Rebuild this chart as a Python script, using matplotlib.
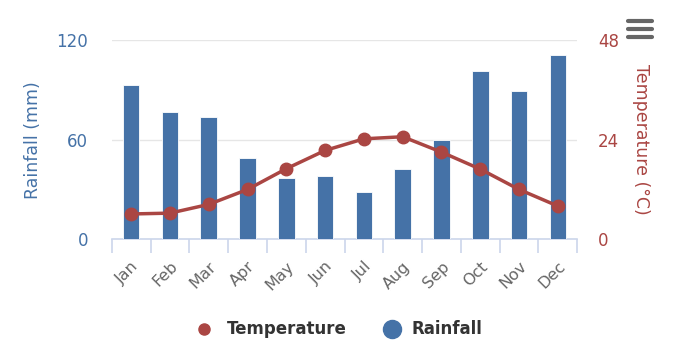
import matplotlib
matplotlib.use("Agg")
import matplotlib.pyplot as plt
from matplotlib.lines import Line2D
import numpy as np

months = ["Jan", "Feb", "Mar", "Apr", "May", "Jun", "Jul", "Aug", "Sep", "Oct", "Nov", "Dec"]
rainfall = [93, 76.4, 73.6, 49.2, 37, 38, 28.6, 42.6, 59.6, 101.6, 89.4, 111]
temperature = [6.1, 6.3, 8.4, 12.0, 17.0, 21.4, 24.2, 24.7, 21.0, 16.9, 12.0, 8.0]
rain_ticks = [0, 60, 120]
temp_ticks = [0, 24, 48]

BLUE = "#4572A7"
RED = "#AA4643"
AXIS = "#ccd6eb"
GRID = "#e6e6e6"
LABEL = "#666666"

plt.rcParams['font.family'] = ['DejaVu Sans']

fig = plt.figure(figsize=(7, 3.5), dpi=100)
ax = fig.add_axes([0.1596, 0.3163, 0.8247 - 0.1596, 0.8857 - 0.3163])
x = np.arange(len(months))

ax.bar(x, rainfall, width=0.43, color=BLUE, edgecolor="white", linewidth=0.6, zorder=3)
ax.set_xlim(-0.5, len(months) - 0.5)
ax.set_ylim(0, 120)
ax.set_yticks(rain_ticks)
ax.set_yticklabels([str(t) for t in rain_ticks])
ax.yaxis.grid(True, color=GRID, linewidth=1, zorder=0)
ax.set_axisbelow(True)
for s in ["top", "right", "left"]:
    ax.spines[s].set_visible(False)
ax.spines["bottom"].set_color(AXIS)
ax.spines["bottom"].set_linewidth(1.2)
ax.tick_params(axis="y", length=0, pad=17, labelsize=12, labelcolor=BLUE)
ax.set_ylabel("Rainfall (mm)", color=BLUE, fontsize=12.5, labelpad=10)

# category boundary ticks
ax.set_xticks(np.arange(-0.5, len(months) + 0.5, 1.0))
ax.set_xticklabels([])
ax.tick_params(axis="x", which="major", length=10, color=AXIS, width=1.2)
ax.set_xticks(x, minor=True)
ax.set_xticklabels(months, minor=True, rotation=45, ha="right", va="top",
                   rotation_mode="anchor", fontsize=11.5, color=LABEL)
ax.tick_params(axis="x", which="minor", length=0, pad=14)

ax2 = ax.twinx()
ax2.plot(x, temperature, color=RED, linewidth=2.5, marker="o", markersize=9,
         markeredgecolor=RED, zorder=5, clip_on=False)
ax2.set_ylim(0, 48)
ax2.set_yticks(temp_ticks)
ax2.set_yticklabels([str(t) for t in temp_ticks])
for s in ["top", "right", "left", "bottom"]:
    ax2.spines[s].set_visible(False)
ax2.tick_params(axis="y", length=0, pad=15, labelsize=12, labelcolor=RED)
ax2.set_ylabel("Temperature (°C)", color=RED, fontsize=12.5, rotation=270,
               labelpad=22)

# legend (manually placed)
ly = 1 - 329 / 350
fig.add_artist(Line2D([204 / 700], [ly], linestyle="none", marker="o",
                      markersize=8, color=RED))
fig.text(227 / 700, ly, "Temperature", ha="left", va="center", fontsize=12,
         fontweight="bold", color="#333333")
fig.add_artist(Line2D([392 / 700], [ly], linestyle="none", marker="o",
                      markersize=13, color=BLUE))
fig.text(412 / 700, ly, "Rainfall", ha="left", va="center", fontsize=12,
         fontweight="bold", color="#333333")

# menu icon
for yy in [21, 29, 37]:
    fig.add_artist(Line2D([628 / 700, 652 / 700], [1 - yy / 350, 1 - yy / 350],
                          color="#666666", linewidth=3, solid_capstyle="round"))

fig.savefig("out.png", dpi=100)
